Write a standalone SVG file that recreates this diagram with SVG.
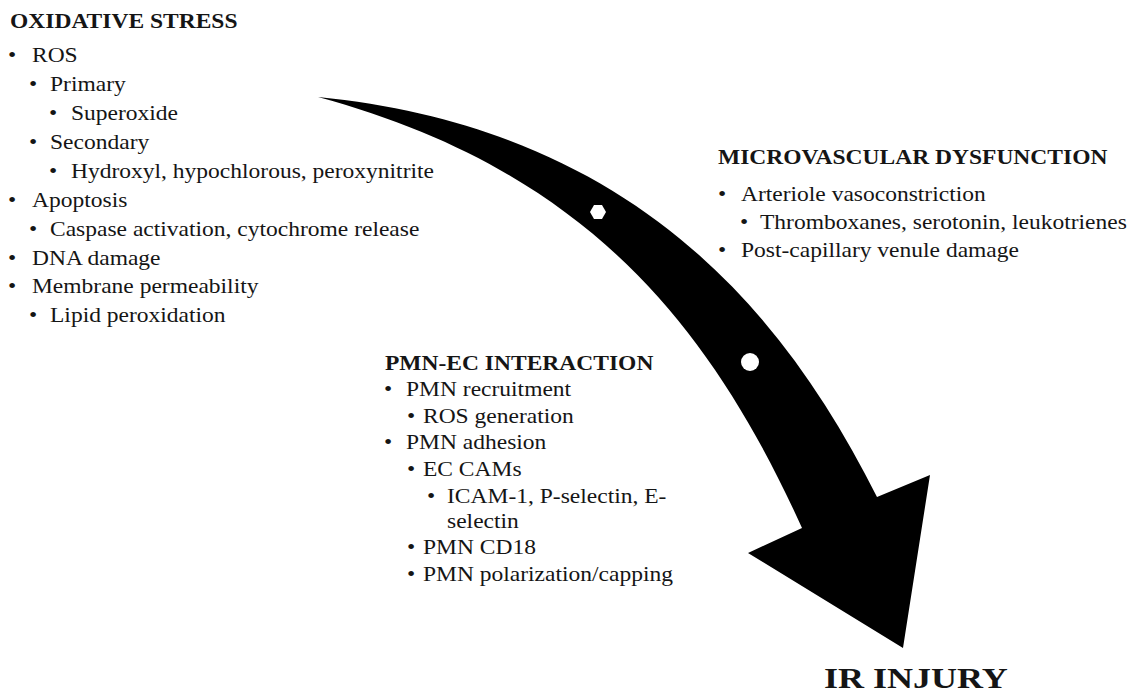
<svg xmlns="http://www.w3.org/2000/svg" width="1133" height="695" viewBox="0 0 1133 695">
<style>
text{font-family:"Liberation Serif","Times New Roman",serif;font-size:21px;fill:#151515}
.h{font-weight:bold}
.ir{font-weight:bold;font-size:30px}
</style>
<rect width="1133" height="695" fill="#fff"/>
<g id="arrow">
<path d="M318,97 C620,127 777,297 877,497 L930,475 L903,648 L748,553 L802,528 C707,318 580,168 318,97 Z" fill="#000"/>
<polygon points="606,212 602,219 594,219 590,212 594,205 602,205" fill="#fff"/>
<circle cx="750" cy="362" r="9" fill="#fff"/>
</g>
<g id="oxidative-stress" transform="translate(8,0) scale(1.12,1)">
<text class="h" x="1.8" y="28">OXIDATIVE STRESS</text>
<text x="0" y="62">•</text><text x="21.4" y="62">ROS</text>
<text x="18.75" y="91">•</text><text x="37.5" y="91">Primary</text>
<text x="36.6" y="120">•</text><text x="56.25" y="120">Superoxide</text>
<text x="18.75" y="149">•</text><text x="37.5" y="149">Secondary</text>
<text x="36.6" y="178">•</text><text x="56.25" y="178">Hydroxyl, hypochlorous, peroxynitrite</text>
<text x="0" y="207">•</text><text x="21.4" y="207">Apoptosis</text>
<text x="18.75" y="236">•</text><text x="37.5" y="236">Caspase activation, cytochrome release</text>
<text x="0" y="265">•</text><text x="21.4" y="265">DNA damage</text>
<text x="0" y="293">•</text><text x="21.4" y="293">Membrane permeability</text>
<text x="18.75" y="322">•</text><text x="37.5" y="322">Lipid peroxidation</text>
</g>
<g id="microvascular-dysfunction" transform="translate(718,0) scale(1.12,1)">
<text class="h" x="0" y="164">MICROVASCULAR DYSFUNCTION</text>
<text x="0" y="201">•</text><text x="20.5" y="201">Arteriole vasoconstriction</text>
<text x="19.6" y="229">•</text><text x="37.5" y="229">Thromboxanes, serotonin, leukotrienes</text>
<text x="0" y="257">•</text><text x="20.5" y="257">Post-capillary venule damage</text>
</g>
<g id="pmn-ec-interaction" transform="translate(385,0) scale(1.12,1)">
<text class="h" x="0" y="370">PMN-EC INTERACTION</text>
<text x="-0.9" y="396">•</text><text x="18.75" y="396">PMN recruitment</text>
<text x="19.6" y="423">•</text><text x="33.9" y="423">ROS generation</text>
<text x="-0.9" y="449">•</text><text x="18.75" y="449">PMN adhesion</text>
<text x="19.6" y="476">•</text><text x="33.9" y="476">EC CAMs</text>
<text x="37.5" y="503">•</text><text x="55.4" y="503">ICAM-1, P-selectin, E-</text>
<text x="55.4" y="528">selectin</text>
<text x="19.6" y="554">•</text><text x="33.9" y="554">PMN CD18</text>
<text x="19.6" y="581">•</text><text x="33.9" y="581">PMN polarization/capping</text>
</g>
<g id="ir-injury" transform="translate(824,688) scale(1.2,1)">
<text class="ir" x="0" y="0">IR INJURY</text>
</g>
</svg>
